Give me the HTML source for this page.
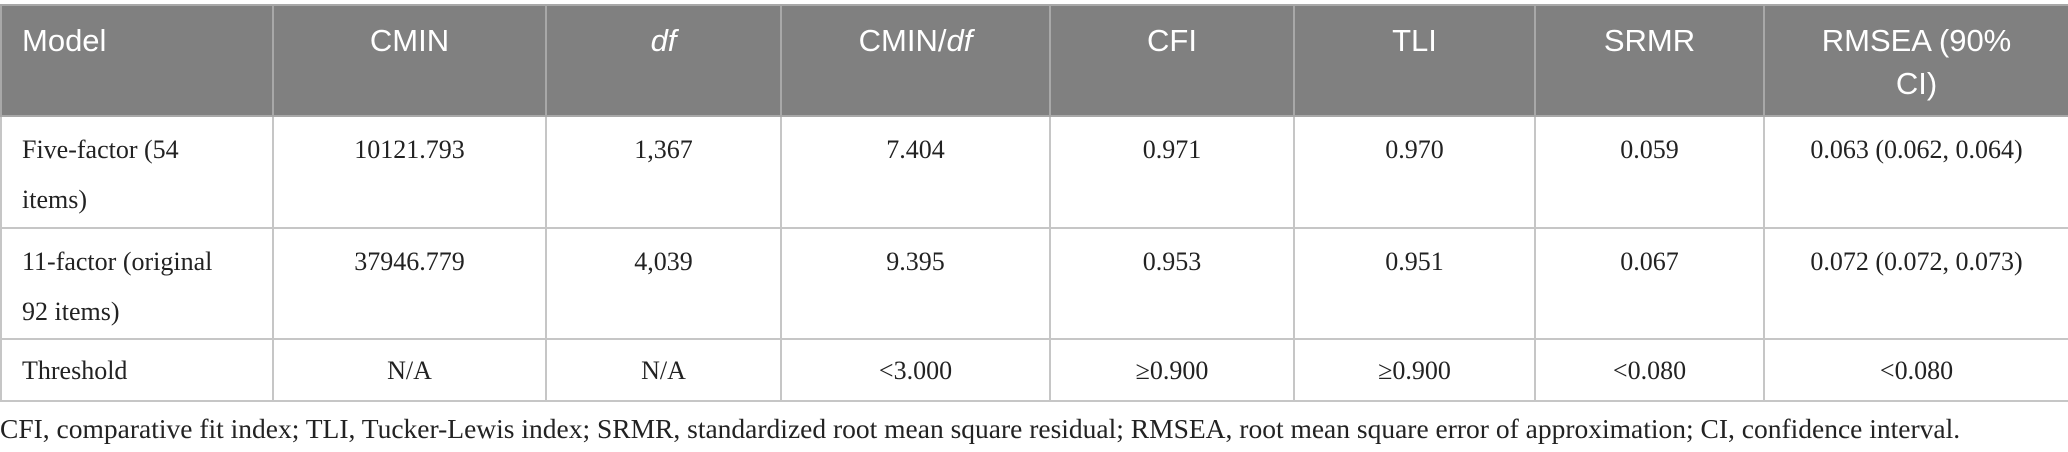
<!DOCTYPE html>
<html><head><meta charset="utf-8"><style>
body{margin:0;width:2068px;height:452px;background:#fff;overflow:hidden;position:relative}
table{position:absolute;left:0;top:4px;border-collapse:collapse;table-layout:fixed;width:2068px}
td,th{border:2px solid #c6c6c6;padding:0;vertical-align:top;text-align:center}
th{background:#808080;color:#fff;font-family:"Liberation Sans",sans-serif;font-weight:normal;font-size:31px;line-height:43px;height:111px;padding-top:13px;box-sizing:border-box;border-color:#a8a8a8}
td{font-family:"Liberation Serif",serif;font-size:26px;color:#222;line-height:50px;padding-top:8px;box-sizing:border-box}
.l{text-align:left;padding-left:20px}
tr.r1 td{height:112px}
tr.r2 td{height:111px}
tr.r3 td{height:62px;padding-top:6px}
.fn{position:absolute;left:0;top:413px;font-family:"Liberation Serif",serif;font-size:27.5px;color:#222;white-space:nowrap}
</style></head><body>
<table>
<colgroup><col style="width:272px"><col style="width:273px"><col style="width:235px"><col style="width:269px"><col style="width:244px"><col style="width:241px"><col style="width:229px"><col style="width:305px"></colgroup>
<tr><th class="l">Model</th><th>CMIN</th><th><i>df</i></th><th>CMIN/<i>df</i></th><th>CFI</th><th>TLI</th><th>SRMR</th><th>RMSEA (90%<br>CI)</th></tr>
<tr class="r1"><td class="l">Five-factor (54<br>items)</td><td>10121.793</td><td>1,367</td><td>7.404</td><td>0.971</td><td>0.970</td><td>0.059</td><td>0.063 (0.062, 0.064)</td></tr>
<tr class="r2"><td class="l">11-factor (original<br>92 items)</td><td>37946.779</td><td>4,039</td><td>9.395</td><td>0.953</td><td>0.951</td><td>0.067</td><td>0.072 (0.072, 0.073)</td></tr>
<tr class="r3"><td class="l">Threshold</td><td>N/A</td><td>N/A</td><td>&lt;3.000</td><td>≥0.900</td><td>≥0.900</td><td>&lt;0.080</td><td>&lt;0.080</td></tr>
</table>
<div class="fn">CFI, comparative fit index; TLI, Tucker-Lewis index; SRMR, standardized root mean square residual; RMSEA, root mean square error of approximation; CI, confidence interval.</div>
</body></html>
